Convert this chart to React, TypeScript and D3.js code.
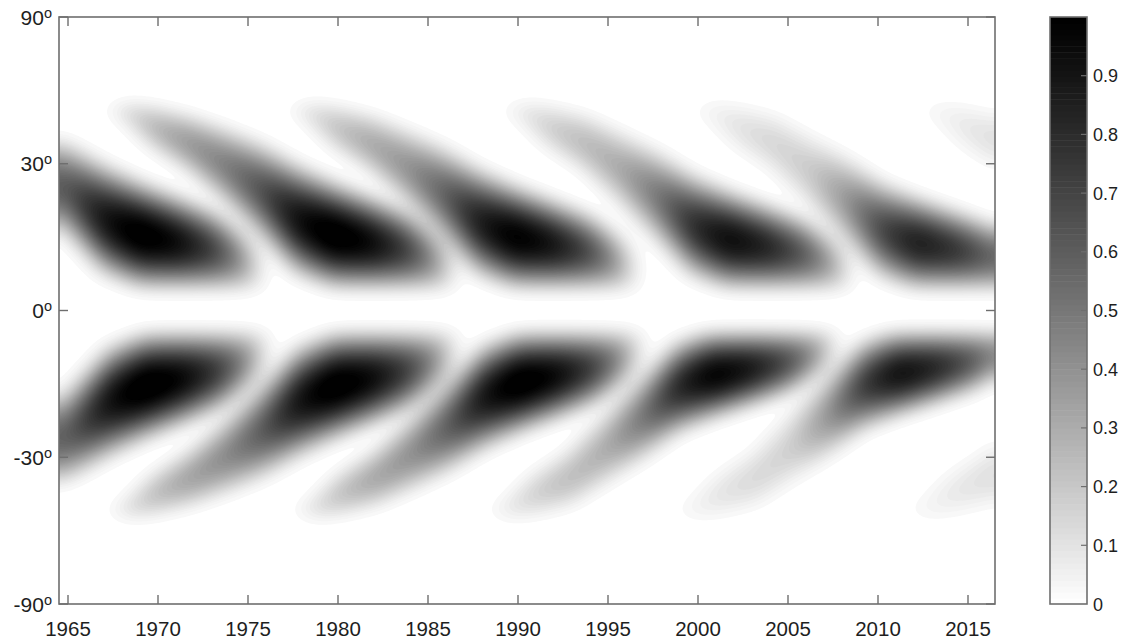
import React, { useMemo } from 'react';
import * as d3 from 'd3';

// ---------- layout ----------
const W = 1122;
const H = 639;
const PLOT = { left: 59, right: 995, top: 17, bottom: 604 };
const BAR = { left: 1050, right: 1087 };

// ---------- axis data ----------
const yearDomain = [1964.5, 2016.5];
const xTickYears = [1965, 1970, 1975, 1980, 1985, 1990, 1995, 2000, 2005, 2010, 2015];
const latTicks = [90, 30, 0, -30, -90];
const latTickLabels = ['90', '30', '0', '-30', '-90'];
const barTicks = [0, 0.1, 0.2, 0.3, 0.4, 0.5, 0.6, 0.7, 0.8, 0.9];
const barTickLabels = ['0', '0.1', '0.2', '0.3', '0.4', '0.5', '0.6', '0.7', '0.8', '0.9'];

// ---------- wing data ----------
// cycles 20..25, time of darkest point of each wing
const cycleIds = [20, 21, 22, 23, 24, 25];
const peakNorth = [1969.0, 1979.7, 1989.8, 2001.7, 2012.2, 2024.8];
const peakSouth = [1969.3, 1979.8, 1990.1, 2000.9, 2011.2, 2024.0];
// strength of the low-latitude core
const coreNorth = [1.05, 1.05, 1.05, 1.02, 1.02, 0];
const coreSouth = [1.08, 1.08, 1.1, 1.1, 1.12, 0];
// strength of the faint high-latitude branch
const branchNorth = [1.15, 1.2, 1.0, 0.8, 0.48, 0.38];
const branchSouth = [1.15, 1.1, 1.05, 0.78, 0.45, 0.36];
// latitude compression of the core
const latScaleNorth = [1.0, 1.0, 0.97, 0.93, 0.88, 1.0];
const latScaleSouth = [1.0, 1.0, 0.95, 0.84, 0.82, 1.0];

// common wing shape, in years from the peak (phase) and sin(latitude)
const phase = [-12.5, -11.5, -10, -8, -6, -4, -2, 0, 2, 4, 5, 6, 6.8];
const upperEdge = [0.7, 0.73, 0.72, 0.69, 0.65, 0.6, 0.53, 0.47, 0.42, 0.37, 0.33, 0.28, 0.2];
const lowerEdge = [0.67, 0.62, 0.53, 0.45, 0.34, 0.22, 0.09, 0.045, 0.045, 0.045, 0.045, 0.045, 0.045];
const coreProfile = [0, 0, 0, 0, 0, 0.2, 0.55, 0.75, 0.65, 0.48, 0.35, 0.2, 0];
const branchProfile = [0, 0.1, 0.22, 0.32, 0.4, 0.37, 0.3, 0.25, 0.25, 0.2, 0.15, 0.08, 0];

const gray = (v: number) => {
  const g = Math.round(255 * Math.pow(Math.max(0, 1 - v), 1.1));
  return `rgb(${g},${g},${g})`;
};

export default function App() {
  const x = d3.scaleLinear().domain(yearDomain).range([PLOT.left, PLOT.right]);
  const y = d3.scaleLinear().domain([-1, 1]).range([PLOT.bottom, PLOT.top]);
  const yBar = d3.scaleLinear().domain([0, 1]).range([PLOT.bottom, PLOT.top]);

  const { paths, levels } = useMemo(() => {
    const upS = d3.scaleLinear().domain(phase).range(upperEdge).clamp(true);
    const loS = d3.scaleLinear().domain(phase).range(lowerEdge).clamp(true);
    const coS = d3.scaleLinear().domain(phase).range(coreProfile).clamp(true);
    const brS = d3.scaleLinear().domain(phase).range(branchProfile).clamp(true);
    const tMin = phase[0];
    const tMax = phase[phase.length - 1];

    const wing = (tau: number, s: number, A: number, B: number, k: number) => {
      if (tau <= tMin || tau >= tMax) return 0;
      const kEff = 1 + (k - 1) * Math.min(1, Math.max(0, (tau + 8) / 6));
      const U = upS(tau) * kEff;
      const L = Math.max(0.045, loS(tau) * kEff);
      if (U <= L) return 0;
      const c = (U + L) / 2;
      const w = (U - L) / 2;
      const xx = (s - c) / w;
      if (Math.abs(xx) >= 1) return 0;
      const amp = A * coS(tau) + B * brS(tau);
      return amp * Math.pow(1 - xx * xx, 1.6);
    };

    const dt = 0.1;
    const ds = 0.005;
    const nx = Math.round((yearDomain[1] - yearDomain[0]) / dt) + 1;
    const ny = Math.round(2 / ds) + 1;
    const values = new Float64Array(nx * ny);
    for (let j = 0; j < ny; j++) {
      const s = 1 - j * ds;
      for (let i = 0; i < nx; i++) {
        const t = yearDomain[0] + i * dt;
        let v = 0;
        for (let c = 0; c < cycleIds.length; c++) {
          if (s > 0) {
            v = Math.max(v, wing(t - peakNorth[c], s, coreNorth[c], branchNorth[c], latScaleNorth[c]));
          } else {
            v = Math.max(v, wing(t - peakSouth[c], -s, coreSouth[c], branchSouth[c], latScaleSouth[c]));
          }
        }
        values[i + j * nx] = v;
      }
    }
    d3.blur2({ data: values, width: nx, height: ny }, 5, 4);
    for (let i = 0; i < values.length; i++) values[i] = Math.min(1, values[i]);

    const nLev = 64;
    const thresholds = d3.range(1, nLev).map((i) => i / nLev);
    const contours = d3.contours().size([nx, ny]).thresholds(thresholds)(Array.from(values));
    const proj = d3.geoTransform({
      point(px: number, py: number) {
        // @ts-ignore
        this.stream.point(x(yearDomain[0] + (px - 0.5) * dt), y(1 - (py - 0.5) * ds));
      },
    });
    const gp = d3.geoPath(proj);
    return {
      paths: contours.map((c) => gp(c as any) || ''),
      levels: contours.map((c) => c.value + 0.5 / nLev),
    };
  }, []);

  const axisColor = '#6e6e6e';
  const textColor = '#1e1e1e';
  const font = 'Arial, "Liberation Sans", sans-serif';
  const tickLen = 9;
  const barSteps = d3.range(0, 100);

  return (
    <svg
      width={W}
      height={H}
      style={{ position: 'absolute', left: 0, top: 0, background: '#fff' }}
      fontFamily={font}
    >
      <defs>
        <clipPath id="plotClip">
          <rect x={PLOT.left} y={PLOT.top} width={PLOT.right - PLOT.left} height={PLOT.bottom - PLOT.top} />
        </clipPath>
      </defs>
      <rect x={0} y={0} width={W} height={H} fill="#fff" />
      <g clipPath="url(#plotClip)">
        {paths.map((d, i) => (
          <path key={i} d={d} fill={gray(levels[i])} stroke="none" />
        ))}
      </g>

      {/* frame */}
      <rect
        x={PLOT.left}
        y={PLOT.top}
        width={PLOT.right - PLOT.left}
        height={PLOT.bottom - PLOT.top}
        fill="none"
        stroke={axisColor}
        strokeWidth={1.6}
      />
      {/* x ticks */}
      {xTickYears.map((yr) => (
        <g key={yr}>
          <line x1={x(yr)} x2={x(yr)} y1={PLOT.bottom} y2={PLOT.bottom - tickLen} stroke={axisColor} strokeWidth={1.4} />
          <line x1={x(yr)} x2={x(yr)} y1={PLOT.top} y2={PLOT.top + tickLen} stroke={axisColor} strokeWidth={1.4} />
          <text x={x(yr)} y={636} textAnchor="middle" fontSize={20.5} fill={textColor}>
            {yr}
          </text>
        </g>
      ))}
      {/* y ticks */}
      {latTicks.map((lat, i) => {
        const yy = y(Math.sin((lat * Math.PI) / 180));
        return (
          <g key={lat}>
            <line x1={PLOT.left} x2={PLOT.left + tickLen} y1={yy} y2={yy} stroke={axisColor} strokeWidth={1.4} />
            <line x1={PLOT.right} x2={PLOT.right - tickLen} y1={yy} y2={yy} stroke={axisColor} strokeWidth={1.4} />
            <text x={52} y={yy + 7.5} textAnchor="end" fontSize={21} fill={textColor}>
              {latTickLabels[i]}
              <tspan fontSize={14.5} dy={-7}>o</tspan>
            </text>
          </g>
        );
      })}

      {/* colorbar */}
      {barSteps.map((i) => (
        <rect
          key={i}
          x={BAR.left}
          y={yBar((i + 1) / 100)}
          width={BAR.right - BAR.left}
          height={yBar(i / 100) - yBar((i + 1) / 100) + 0.5}
          fill={gray((i + 0.5) / 100)}
          stroke="none"
        />
      ))}
      <rect
        x={BAR.left}
        y={PLOT.top}
        width={BAR.right - BAR.left}
        height={PLOT.bottom - PLOT.top}
        fill="none"
        stroke={axisColor}
        strokeWidth={1.6}
      />
      {barTicks.map((v, i) => (
        <g key={v}>
          {v > 0 && (
            <line x1={BAR.right} x2={BAR.right - 6} y1={yBar(v)} y2={yBar(v)} stroke={axisColor} strokeWidth={1.2} />
          )}
          <text x={1093} y={yBar(v) + 6.5} fontSize={18} fill={textColor}>
            {barTickLabels[i]}
          </text>
        </g>
      ))}
    </svg>
  );
}
